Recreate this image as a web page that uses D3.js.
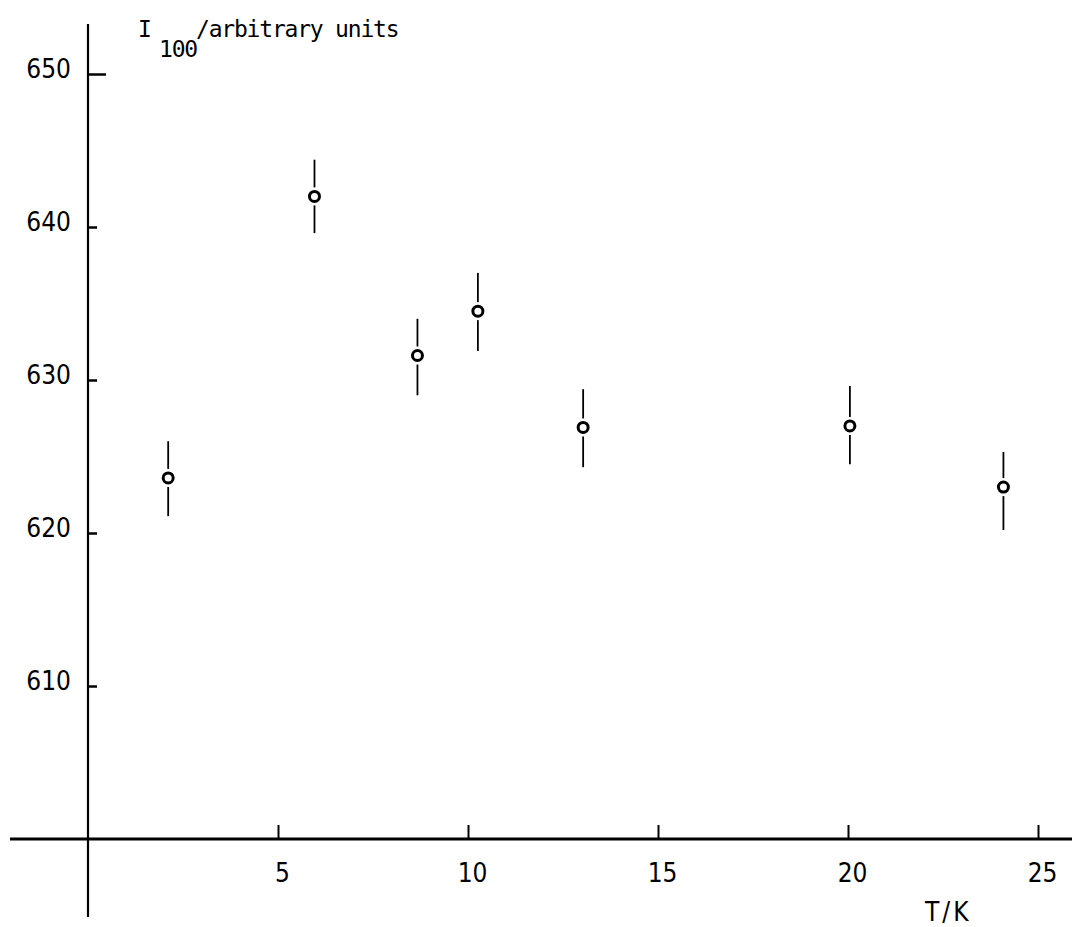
<!DOCTYPE html>
<html>
<head>
<meta charset="utf-8">
<script src="https://cdn.jsdelivr.net/npm/d3@7"></script>
<style>
  body { margin: 0; background: #fff; }
  svg { display: block; }
  .tick text { font-family: "DejaVu Sans Condensed", "DejaVu Sans", sans-serif; font-size: 26px; fill: #000; }
</style>
</head>
<body>
<div id="chart"></div>
<script>
// Temperature (K) and I100 intensity
const temps = [2.11, 5.96, 8.67, 10.26, 13.03, 20.05, 24.09];
const intensity = [623.6, 642.0, 631.6, 634.5, 626.9, 627.0, 623.0];
const errUpper = [626.0, 644.4, 634.0, 637.0, 629.4, 629.6, 625.3];
const errLower = [621.1, 639.6, 629.0, 631.9, 624.3, 624.5, 620.2];

const xTicks = [5, 10, 15, 20, 25];
const yTicks = [610, 620, 630, 640, 650];

const width = 1072, height = 927;

const svg = d3.select("#chart").append("svg")
    .attr("width", width)
    .attr("height", height);

svg.append("rect").attr("width", width).attr("height", height).attr("fill", "#fff");

const x = d3.scaleLinear().domain([0, 25]).range([88, 1038]);
const y = d3.scaleLinear().domain([600, 650]).range([839, 74]);

// y axis: ticks point inward, labels on the left
const yAxis = svg.append("g")
    .attr("transform", `translate(${x(0)},0)`)
    .call(d3.axisLeft(y).tickValues(yTicks).tickSizeInner(-9).tickSizeOuter(0).tickPadding(17).tickFormat(d3.format("d")));
yAxis.select(".domain").remove();
yAxis.selectAll(".tick line").attr("stroke", "#000").attr("stroke-width", 2.5)
    .attr("x2", d => d === 650 ? 18 : 9);
yAxis.selectAll(".tick text").attr("dy", "0.12em");

svg.append("line")
    .attr("x1", x(0)).attr("x2", x(0))
    .attr("y1", 24).attr("y2", 917)
    .attr("stroke", "#000").attr("stroke-width", 2.2);

// x axis: ticks point up, labels below
const xAxis = svg.append("g")
    .attr("transform", `translate(0,${y(600)})`)
    .call(d3.axisBottom(x).tickValues(xTicks).tickSizeInner(-14).tickSizeOuter(0).tickPadding(25).tickFormat(d3.format("d")));
xAxis.select(".domain").remove();
xAxis.selectAll(".tick line").attr("stroke", "#000").attr("stroke-width", 2);
xAxis.selectAll(".tick text").attr("dx", 4);

svg.append("line")
    .attr("x1", 10).attr("x2", width)
    .attr("y1", y(600)).attr("y2", y(600))
    .attr("stroke", "#000").attr("stroke-width", 3);

// axis titles
const title = svg.append("g")
    .style("font-family", "'DejaVu Sans Mono', monospace")
    .style("font-size", "23px")
    .style("letter-spacing", "-1.2px")
    .attr("fill", "#000");
title.append("text").attr("x", 138).attr("y", 37).text("I");
title.append("text").attr("x", 159).attr("y", 57).text("100");
title.append("text").attr("x", 196).attr("y", 37).text("/arbitrary units");

svg.append("text")
    .attr("x", 925).attr("y", 921)
    .style("font-family", "'DejaVu Sans Condensed', 'DejaVu Sans', sans-serif")
    .style("font-size", "26px")
    .style("letter-spacing", "3px")
    .text("T/K");

// points with error bars
const pts = temps.map((t, i) => ({ t, v: intensity[i], hi: errUpper[i], lo: errLower[i] }));
const r = 5, gap = 4;

const g = svg.append("g");
g.selectAll(".err-up").data(pts).join("line")
    .attr("x1", d => x(d.t)).attr("x2", d => x(d.t))
    .attr("y1", d => y(d.hi)).attr("y2", d => y(d.v) - r - gap)
    .attr("stroke", "#000").attr("stroke-width", 1.8);
g.selectAll(".err-dn").data(pts).join("line")
    .attr("x1", d => x(d.t)).attr("x2", d => x(d.t))
    .attr("y1", d => y(d.v) + r + gap).attr("y2", d => y(d.lo))
    .attr("stroke", "#000").attr("stroke-width", 1.8);
g.selectAll("circle").data(pts).join("circle")
    .attr("cx", d => x(d.t)).attr("cy", d => y(d.v))
    .attr("r", r)
    .attr("fill", "#fff")
    .attr("stroke", "#000")
    .attr("stroke-width", 3);
</script>
</body>
</html>
